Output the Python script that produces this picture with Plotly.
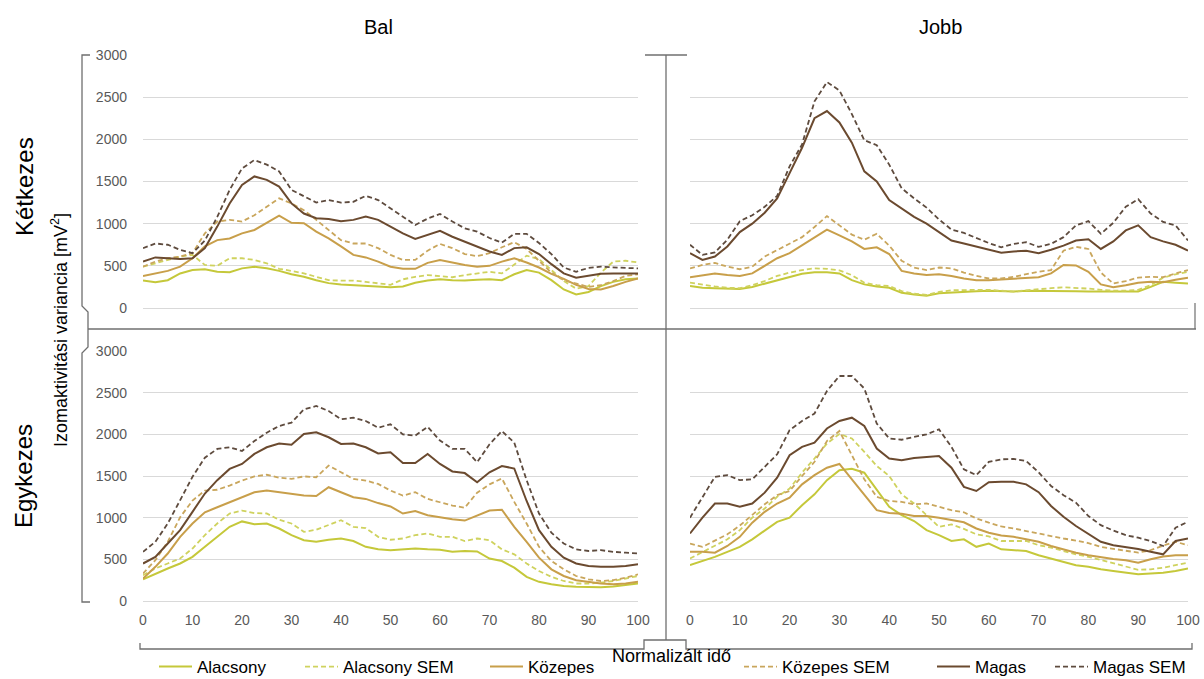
import plotly.graph_objects as go

W, H = 1204, 679

# ---------------- data ----------------
time_pct = [i * 2.5 for i in range(41)]          # normalised time 0..100 %
x_tick_vals = [0, 10, 20, 30, 40, 50, 60, 70, 80, 90, 100]
y_tick_vals = [0, 500, 1000, 1500, 2000, 2500, 3000]

series_names = ["Alacsony", "Alacsony SEM", "Közepes", "Közepes SEM", "Magas", "Magas SEM"]
column_titles = ["Bal", "Jobb"]
row_titles = ["Kétkezes", "Egykezes"]
y_title = "Izomaktivitási variancia [mV<sup>2</sup>]"
x_title = "Normalizált idő"

# Bal / Kétkezes
bal_ket_alacsony = [325, 305, 330, 410, 450, 460, 430, 425, 470, 490, 470, 440, 400, 370, 330, 295, 280, 270, 260, 255,
                    245, 255, 300, 325, 340, 330, 325, 335, 340, 330, 400, 450, 420, 330, 220, 160, 190, 260, 310, 340, 350]
bal_ket_alacsony_sem = [490, 530, 570, 610, 630, 510, 500, 590, 590, 570, 530, 465, 440, 410, 370, 330, 325, 325, 310, 295,
                        275, 340, 370, 390, 380, 365, 390, 410, 430, 410, 520, 620, 580, 450, 320, 230, 260, 420, 550, 560, 540]
bal_ket_kozepes = [380, 410, 440, 490, 590, 730, 805, 825, 885, 925, 1010, 1095, 1010, 1005, 905, 825, 730, 630, 600, 550,
                   490, 465, 465, 535, 570, 540, 510, 490, 500, 550, 590, 540, 480, 405, 345, 275, 225, 220, 260, 310, 350]
bal_ket_kozepes_sem = [490, 550, 590, 610, 650, 885, 1025, 1045, 1025, 1100, 1200, 1300, 1240, 1160, 1045, 925, 805, 765, 765, 710,
                       630, 570, 570, 680, 760, 710, 640, 615, 650, 720, 780, 700, 560, 420, 330, 290, 250, 270, 320, 380, 400]
bal_ket_magas = [550, 600, 590, 580, 590, 710, 965, 1240, 1460, 1560, 1520, 1440, 1240, 1120, 1065, 1055, 1030, 1045, 1085, 1045,
                 965, 885, 820, 865, 915, 845, 785, 725, 670, 630, 710, 720, 640, 520, 410, 360, 385, 405, 410, 410, 410]
bal_ket_magas_sem = [710, 765, 750, 690, 650, 800, 1080, 1400, 1655, 1755, 1700, 1620, 1400, 1320, 1250, 1280, 1250, 1260, 1330, 1280,
                     1180, 1085, 985, 1060, 1115, 1025, 945, 905, 830, 775, 880, 880, 770, 640, 480, 430, 475, 490, 480, 475, 470]

# Jobb / Kétkezes
jobb_ket_alacsony = [260, 240, 235, 230, 225, 250, 290, 330, 370, 405, 425, 425, 410, 330, 280, 255, 240, 180, 160, 145,
                     175, 185, 195, 200, 205, 200, 195, 205, 205, 205, 205, 200, 195, 195, 190, 190, 195, 250, 310, 300, 290]
jobb_ket_alacsony_sem = [300, 275, 255, 240, 235, 270, 320, 380, 420, 450, 470, 465, 445, 390, 300, 270, 260, 200, 170, 155,
                         190, 210, 215, 215, 215, 205, 195, 210, 225, 235, 245, 240, 230, 215, 205, 205, 215, 270, 360, 400, 430]
jobb_ket_kozepes = [365, 390, 410, 390, 380, 410, 500, 590, 650, 745, 840, 930, 860, 790, 700, 720, 640, 440, 410, 390,
                    400, 380, 350, 330, 330, 340, 350, 360, 365, 410, 510, 505, 430, 280, 245, 270, 300, 310, 305, 335, 360]
jobb_ket_kozepes_sem = [470, 510, 535, 490, 460, 490, 610, 690, 770, 840, 960, 1090, 980, 870, 810, 880, 740, 560, 480, 450,
                        480, 470, 420, 380, 350, 350, 370, 400, 430, 450, 680, 725, 700, 420, 290, 320, 360, 370, 365, 410, 450]
jobb_ket_magas = [650, 570, 610, 730, 900, 1000, 1130, 1300, 1600, 1900, 2250, 2335, 2200, 1960, 1620, 1500, 1280, 1180, 1080, 1000,
                  900, 800, 765, 730, 690, 655, 670, 680, 650, 690, 740, 800, 815, 700, 790, 920, 980, 840, 790, 750, 680]
jobb_ket_magas_sem = [750, 630, 660, 810, 1030, 1100, 1200, 1330, 1680, 1940, 2450, 2680, 2580, 2300, 1990, 1930, 1700, 1420, 1300, 1190,
                      1050, 930, 890, 830, 770, 720, 760, 780, 725, 760, 840, 980, 1030, 880, 1010, 1200, 1290, 1120, 1020, 980, 800]

# Bal / Egykezes
bal_egy_alacsony = [260, 330, 390, 450, 530, 650, 770, 890, 955, 920, 930, 870, 790, 730, 710, 735, 750, 720, 650, 620,
                    610, 620, 630, 620, 615, 590, 600, 595, 510, 480, 400, 290, 230, 200, 180, 170, 170, 165, 175, 190, 210]
bal_egy_alacsony_sem = [310, 390, 450, 510, 630, 790, 930, 1050, 1085, 1055, 1050, 975, 930, 830, 855, 910, 970, 890, 875, 770,
                        735, 750, 790, 810, 770, 770, 720, 750, 730, 620, 560, 450, 360, 290, 240, 210, 210, 220, 240, 270, 300]
bal_egy_kozepes = [270, 410, 570, 770, 930, 1065, 1125, 1185, 1245, 1305, 1325, 1305, 1280, 1265, 1260, 1365, 1305, 1245, 1225, 1175,
                   1135, 1050, 1080, 1030, 1005, 980, 965, 1030, 1085, 1095, 890, 710, 520, 380, 300, 250, 230, 210, 200, 210, 230]
bal_egy_kozepes_sem = [330, 490, 710, 1005, 1205, 1325, 1335, 1385, 1445, 1495, 1515, 1480, 1465, 1495, 1485, 1625, 1545, 1465, 1445, 1405,
                       1325, 1265, 1305, 1225, 1185, 1145, 1120, 1300, 1400, 1470, 1190, 930, 650, 480, 380, 300, 260, 240, 250, 280, 320]
bal_egy_magas = [450, 530, 690, 850, 1070, 1290, 1450, 1585, 1645, 1765, 1845, 1890, 1875, 2005, 2025, 1965, 1885, 1890, 1845, 1770,
                 1785, 1655, 1655, 1765, 1645, 1555, 1535, 1425, 1545, 1620, 1590, 1200, 850, 650, 520, 450, 420, 410, 410, 420, 440]
bal_egy_magas_sem = [590, 710, 930, 1210, 1490, 1720, 1825, 1845, 1800, 1920, 2020, 2100, 2140, 2300, 2340, 2280, 2180, 2200, 2160, 2080,
                     2120, 2000, 1985, 2090, 1925, 1825, 1825, 1665, 1880, 2040, 1900, 1450, 1050, 820, 690, 620, 600, 610, 590, 580, 570]

# Jobb / Egykezes
jobb_egy_alacsony = [430, 480, 530, 590, 650, 740, 840, 950, 1000, 1150, 1280, 1450, 1570, 1586, 1540, 1330, 1130, 1030, 960, 850,
                     790, 720, 740, 650, 690, 620, 610, 600, 550, 510, 470, 430, 410, 380, 360, 340, 320, 330, 340, 360, 390]
jobb_egy_alacsony_sem = [510, 590, 660, 740, 850, 1000, 1110, 1250, 1350, 1540, 1710, 1890, 2005, 1950, 1790, 1620, 1500, 1280, 1170, 1030,
                         890, 920, 865, 800, 775, 720, 720, 720, 670, 640, 600, 560, 530, 490, 450, 410, 375, 380, 400, 430, 460]
jobb_egy_kozepes = [590, 590, 580, 660, 770, 940, 1070, 1170, 1240, 1400, 1510, 1600, 1645, 1460, 1280, 1090, 1055, 1048, 1020, 1020,
                    1000, 970, 945, 870, 820, 785, 770, 740, 710, 660, 620, 580, 550, 525, 505, 488, 460, 500, 535, 550, 550]
jobb_egy_kozepes_sem = [690, 650, 725, 800, 905, 1035, 1160, 1270, 1320, 1500, 1670, 1920, 2040, 1750, 1460, 1250, 1200, 1190, 1160, 1170,
                        1130, 1090, 1065, 990, 940, 895, 870, 840, 810, 775, 750, 725, 695, 650, 625, 608, 580, 610, 665, 710, 670]
jobb_egy_magas = [810, 1000, 1170, 1170, 1130, 1170, 1300, 1480, 1750, 1850, 1900, 2070, 2160, 2200, 2100, 1830, 1710, 1690, 1715, 1725,
                  1740, 1600, 1370, 1320, 1426, 1430, 1430, 1400, 1306, 1140, 1010, 900, 800, 710, 670, 645, 625, 590, 560, 720, 750]
jobb_egy_magas_sem = [1000, 1250, 1490, 1510, 1450, 1460, 1610, 1760, 2050, 2160, 2250, 2520, 2700, 2700, 2550, 2130, 1950, 1935, 1970, 2000,
                      2060, 1850, 1580, 1510, 1670, 1700, 1705, 1680, 1545, 1380, 1270, 1180, 1020, 910, 845, 790, 760, 720, 660, 880, 950]

panel_data = [
    [bal_ket_alacsony, bal_ket_alacsony_sem, bal_ket_kozepes, bal_ket_kozepes_sem, bal_ket_magas, bal_ket_magas_sem],
    [jobb_ket_alacsony, jobb_ket_alacsony_sem, jobb_ket_kozepes, jobb_ket_kozepes_sem, jobb_ket_magas, jobb_ket_magas_sem],
    [bal_egy_alacsony, bal_egy_alacsony_sem, bal_egy_kozepes, bal_egy_kozepes_sem, bal_egy_magas, bal_egy_magas_sem],
    [jobb_egy_alacsony, jobb_egy_alacsony_sem, jobb_egy_kozepes, jobb_egy_kozepes_sem, jobb_egy_magas, jobb_egy_magas_sem],
]

# ---------------- styles ----------------
FONT = "Liberation Sans, Arial, sans-serif"
DASH = "5px,3px"
line_styles = [
    dict(color="#c5c83a", width=2.0, dash="solid"),
    dict(color="#cfd25e", width=1.8, dash=DASH),
    dict(color="#c89f4a", width=2.0, dash="solid"),
    dict(color="#c9a65c", width=1.8, dash=DASH),
    dict(color="#6b4a2f", width=2.0, dash="solid"),
    dict(color="#5e4b3e", width=1.8, dash=DASH),
]
legend_text_start_px = [197, 343, 528, 782, 975, 1093]


def fx(px):
    return px / W


def fy(py):
    return 1 - py / H


x_domains = [[fx(143), fx(638)], [fx(690), fx(1188)]]
y_domains = [[fy(308), fy(55)], [fy(601), fy(351)]]

panels = [  # (xaxis, yaxis, column, row, side)
    ("x", "y", 0, 0, "left"),
    ("x2", "y2", 1, 0, "right"),
    ("x3", "y3", 0, 1, "left"),
    ("x4", "y4", 1, 1, "right"),
]

fig = go.Figure()
legend_ids = ["legend", "legend2", "legend3", "legend4", "legend5", "legend6"]

for p, (xa, ya, col, row, side) in enumerate(panels):
    for s, name in enumerate(series_names):
        fig.add_trace(go.Scatter(
            x=time_pct, y=panel_data[p][s], xaxis=xa, yaxis=ya,
            mode="lines", name=name, line=line_styles[s],
            showlegend=(p == 0), legend=legend_ids[s], hoverinfo="skip",
        ))

layout = {}
GRID = "#d9d9d9"
for p, (xa, ya, col, row, side) in enumerate(panels):
    xkey = "xaxis" + xa[1:]
    ykey = "yaxis" + ya[1:]
    layout[xkey] = dict(
        domain=x_domains[col], anchor=ya, range=[0, 100], showgrid=False, zeroline=False,
        showline=False, ticks="", tickvals=x_tick_vals, showticklabels=(row == 1),
        tickfont=dict(family=FONT, size=14, color="#595959"), ticklabelstandoff=9,
        fixedrange=True, automargin=False,
    )
    layout[ykey] = dict(
        domain=y_domains[row], anchor=xa, range=[0, 3000], tickvals=y_tick_vals,
        showgrid=True, gridcolor=GRID, gridwidth=1, zeroline=True, zerolinecolor=GRID,
        zerolinewidth=1, showline=False, ticks="", showticklabels=(side == "left"),
        tickfont=dict(family=FONT, size=14, color="#595959"), ticklabelstandoff=15,
        fixedrange=True, automargin=False,
    )

shapes = []
AXC = "#7f7f7f"
# small vertical tick marks at each gridline
for p, (xa, ya, col, row, side) in enumerate(panels):
    anchor_x = 0 if side == "left" else 100
    off = -2 if side == "left" else 7
    for t in y_tick_vals:
        shapes.append(dict(type="line", xref=xa, yref=ya, xsizemode="pixel", ysizemode="pixel",
                           xanchor=anchor_x, yanchor=t, x0=off, x1=off, y0=-3, y1=3,
                           line=dict(color=AXC, width=1.2)))


def path(points):
    return "M " + " L ".join(f"{fx(a):.5f},{fy(b):.5f}" for a, b in points)


BR = "#6f6f6f"
# left bracket
shapes.append(dict(type="path", xref="paper", yref="paper",
                   path=path([(90, 55), (82, 55), (82, 306), (88, 312), (88, 347), (82, 353), (82, 602), (90, 602)]),
                   line=dict(color=BR, width=1.3)))
# horizontal divider
shapes.append(dict(type="line", xref="paper", yref="paper", x0=fx(88), x1=fx(1196), y0=fy(329), y1=fy(329),
                   line=dict(color=BR, width=1.3)))
# right small connector
shapes.append(dict(type="line", xref="paper", yref="paper", x0=fx(1195), x1=fx(1195), y0=fy(303), y1=fy(329),
                   line=dict(color=BR, width=1.2)))
# vertical divider with top cap
shapes.append(dict(type="line", xref="paper", yref="paper", x0=fx(666), x1=fx(666), y0=fy(55), y1=fy(640),
                   line=dict(color=BR, width=1.3)))
shapes.append(dict(type="line", xref="paper", yref="paper", x0=fx(645), x1=fx(687), y0=fy(55), y1=fy(55),
                   line=dict(color=BR, width=1.3)))
# bottom bracket
shapes.append(dict(type="path", xref="paper", yref="paper",
                   path=path([(140, 643), (140, 649), (644, 649), (644, 640), (686, 640), (686, 649), (1192, 649), (1192, 643)]),
                   line=dict(color=BR, width=1.3)))

annotations = [
    dict(text=column_titles[0], x=fx(378), y=fy(27), font=dict(size=20)),
    dict(text=column_titles[1], x=fx(940), y=fy(27), font=dict(size=20)),
    dict(text=row_titles[0], x=fx(24), y=fy(187), textangle=-90, font=dict(size=24)),
    dict(text=row_titles[1], x=fx(24), y=fy(476), textangle=-90, font=dict(size=24)),
    dict(text=y_title, x=fx(59), y=fy(330), textangle=-90, font=dict(size=18)),
    dict(text=x_title, x=fx(671), y=fy(656), font=dict(size=18)),
]
for a in annotations:
    a.update(xref="paper", yref="paper", showarrow=False, xanchor="center", yanchor="middle")
    a["font"].update(family=FONT, color="#000000")

ITEMW = 33
for i, lid in enumerate(legend_ids):
    layout[lid] = dict(
        x=fx(legend_text_start_px[i] - (ITEMW + 10)), y=fy(667), xanchor="left", yanchor="middle",
        orientation="h", itemwidth=ITEMW, bgcolor="rgba(0,0,0,0)", borderwidth=0,
        font=dict(family=FONT, size=17, color="#000000"),
        itemclick=False, itemdoubleclick=False,
    )

fig.update_layout(
    width=W, height=H, margin=dict(l=0, r=0, t=0, b=0, autoexpand=False),
    paper_bgcolor="white", plot_bgcolor="white",
    font=dict(family=FONT), shapes=shapes, annotations=annotations,
    **layout,
)

fig.write_html("out.html", config={"displayModeBar": False})
